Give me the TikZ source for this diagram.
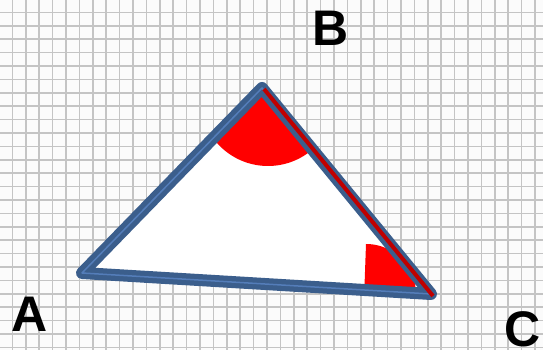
\documentclass[tikz,border=0pt]{standalone}
\usepackage{fontspec}
\setmainfont{Liberation Sans}
\usepackage{tikz}

\definecolor{edgeblue}{RGB}{59,94,140}
\definecolor{edgelight}{RGB}{84,125,185}
\definecolor{sidered}{RGB}{192,0,0}
\definecolor{gridgray}{RGB}{196,196,196}

\begin{document}
\begin{tikzpicture}[x=1pt,y=1pt,
    gridline/.style={gridgray,line width=1.6pt},
    vertexlabel/.style={inner sep=0pt,font=\bfseries\fontsize{50}{50}\selectfont}]
	  % paper with grid
	  \fill[white!97!gray] (0,0) rectangle (543,350);
	  \useasboundingbox (0,0) rectangle (543,350);
	  \foreach \i in {0,...,40}
	    \draw[gridline] ({12.4+13.4*\i},0) -- ++(0,350);
	  \foreach \i in {0,...,26}
	    \draw[gridline] (0,{337.6-13.4*\i}) -- ++(543,0);
	  % vertices
	  \coordinate (A) at (82,77);
	  \coordinate (B) at (262,262);
	  \coordinate (C) at (431,56);
	  \fill[white] (A) -- (B) -- (C) -- cycle;
	  % angles
	  \begin{scope}
	    \clip (A) -- (B) -- (C) -- cycle;
	    \fill[red] (268,252) circle (68);
	    \fill[red] (364,50) -- (366,106) arc[start angle=90,end angle=-10,radius=50] -- cycle;
	  \end{scope}
	  % sides
	  \draw[edgeblue,line width=12pt,line join=round,line cap=round] (A) -- (B) -- (C) -- cycle;
	  \draw[edgelight,line width=1.5pt,line join=round] (A) -- (B) -- (C) -- cycle;
	  \draw[sidered,line width=4pt] (264,261) -- (433,54);
	  % labels
	  \node[vertexlabel] (la) at (30,35.5) {A};
	  \node[vertexlabel] (lb) at (331,321.5) {B};
	  \node[vertexlabel] (lc) at (523,21) {C};
	\end{tikzpicture}
\end{document}
